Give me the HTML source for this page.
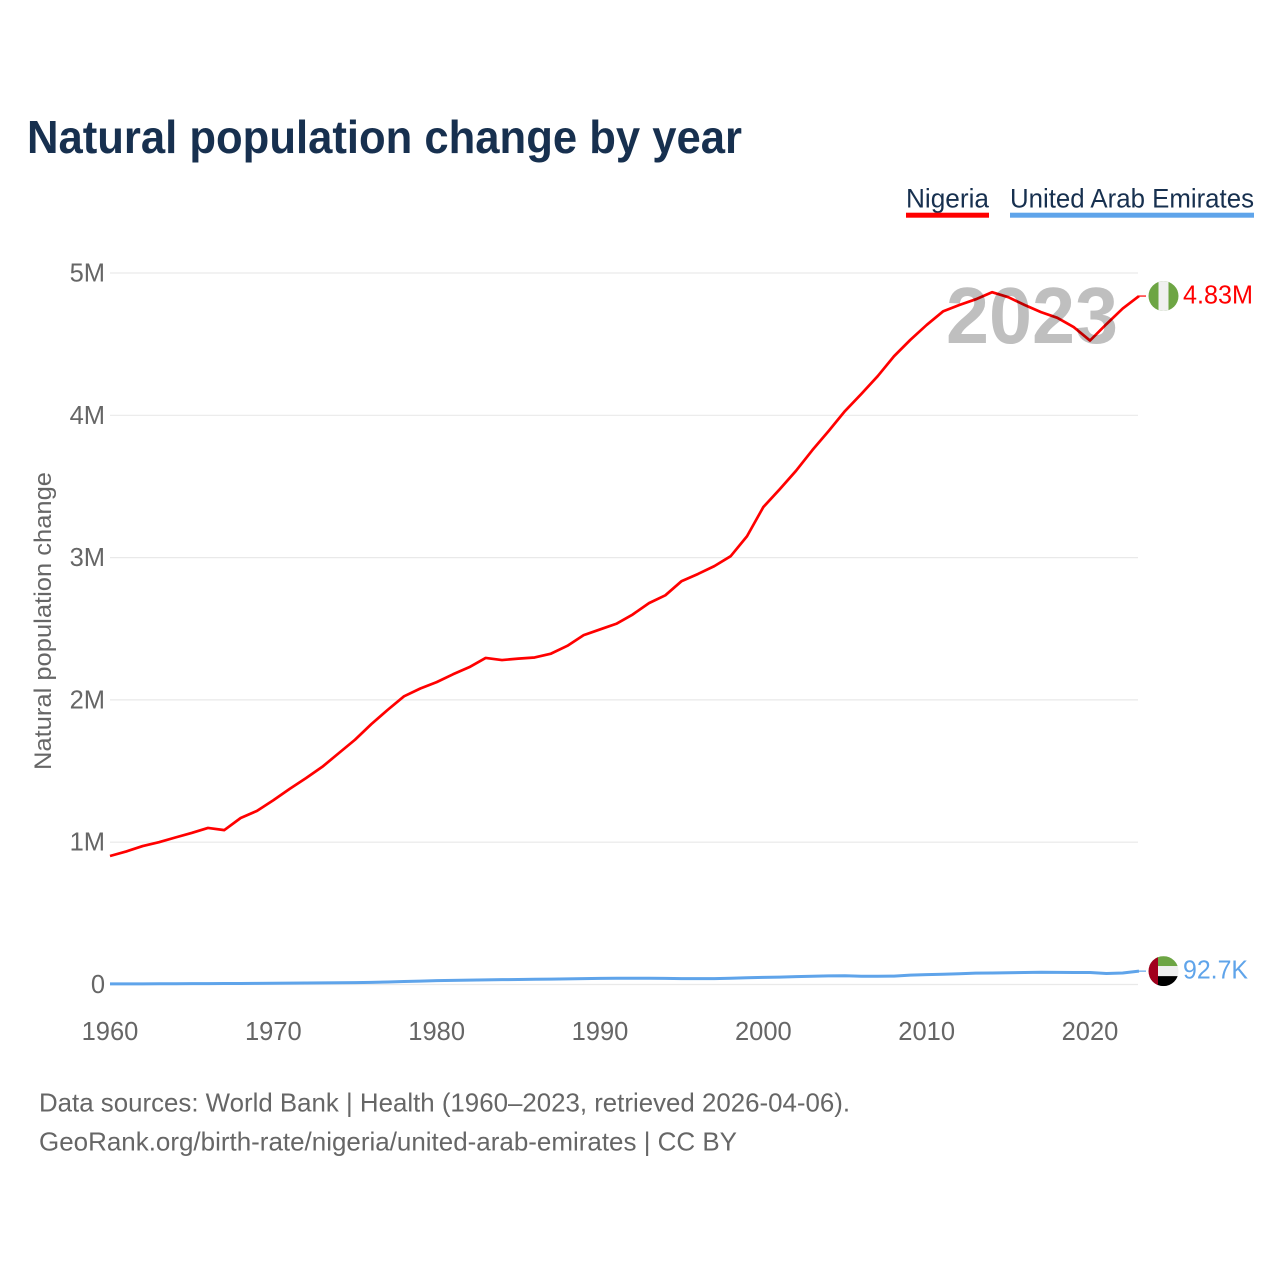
<!DOCTYPE html>
<html lang="en">
<head>
<meta charset="utf-8">
<title>Natural population change by year</title>
<style>
  html, body { margin: 0; padding: 0; background: #ffffff; }
  svg { display: block; font-family: "Liberation Sans", "DejaVu Sans", sans-serif; }
</style>
</head>
<body>
<svg id="chart" xmlns="http://www.w3.org/2000/svg" width="1280" height="1280" viewBox="0 0 1280 1280">
  <rect x="0" y="0" width="1280" height="1280" fill="#ffffff"/>
  <text x="27" y="153" font-size="46" font-weight="700" fill="#17304f" textLength="715" lengthAdjust="spacingAndGlyphs">Natural population change by year</text>

  <g>
    <text x="906" y="207.5" font-size="27" fill="#17304f" textLength="83" lengthAdjust="spacingAndGlyphs">Nigeria</text>
    <rect x="906" y="212.7" width="83" height="5" fill="#ff0000"/>
  </g>
  <g>
    <text x="1010" y="207.5" font-size="27" fill="#17304f" textLength="244" lengthAdjust="spacingAndGlyphs">United Arab Emirates</text>
    <rect x="1010" y="212.7" width="244" height="5" fill="#5fa4ea"/>
  </g>

  <g id="grid"></g>
  <g id="y-axis"></g>
  <g id="x-axis"></g>
  <text transform="translate(51 621) rotate(-90)" text-anchor="middle" font-size="24" fill="#666666" textLength="298" lengthAdjust="spacingAndGlyphs">Natural population change</text>

  <g id="series"></g>
  <text id="year-label" x="946" y="343" font-size="80" font-weight="700" fill="#bfbfbf" textLength="172" lengthAdjust="spacingAndGlyphs" style="mix-blend-mode:multiply">2023</text>

  <defs>
    <clipPath id="flag-clip-ng"><circle cx="0" cy="0" r="15"/></clipPath>
    <clipPath id="flag-clip-ae"><circle cx="0" cy="0" r="15"/></clipPath>
  </defs>
  <g id="flag-ng">
    <g clip-path="url(#flag-clip-ng)">
      <rect x="-15" y="-15" width="30" height="30" fill="#6da544"/>
      <rect x="-5" y="-15" width="10" height="30" fill="#f0f0f0"/>
    </g>
  </g>
  <g id="flag-ae">
    <g clip-path="url(#flag-clip-ae)">
      <rect x="-15" y="-15" width="30" height="10" fill="#6da544"/>
      <rect x="-15" y="-5" width="30" height="10" fill="#f0f0f0"/>
      <rect x="-15" y="5" width="30" height="10" fill="#000000"/>
      <rect x="-15" y="-15" width="9.5" height="30" fill="#a2001d"/>
    </g>
  </g>
  <text id="end-label-ng" x="1183" font-size="25.5" fill="#ff0000" textLength="70" lengthAdjust="spacingAndGlyphs"></text>
  <text id="end-label-ae" x="1183" font-size="25.5" fill="#5fa4ea" textLength="65" lengthAdjust="spacingAndGlyphs"></text>

  <text x="39" y="1111.5" font-size="26" fill="#666666" textLength="811" lengthAdjust="spacingAndGlyphs">Data sources: World Bank | Health (1960–2023, retrieved 2026-04-06).</text>
  <text x="39" y="1150.5" font-size="26" fill="#666666" textLength="698" lengthAdjust="spacingAndGlyphs">GeoRank.org/birth-rate/nigeria/united-arab-emirates | CC BY</text>
</svg>
<script>
var years = [1960,1961,1962,1963,1964,1965,1966,1967,1968,1969,1970,1971,1972,1973,1974,1975,1976,1977,1978,1979,1980,1981,1982,1983,1984,1985,1986,1987,1988,1989,1990,1991,1992,1993,1994,1995,1996,1997,1998,1999,2000,2001,2002,2003,2004,2005,2006,2007,2008,2009,2010,2011,2012,2013,2014,2015,2016,2017,2018,2019,2020,2021,2022,2023];
var nigeriaValues = [903000,935000,973000,1000000,1033000,1065000,1100000,1085000,1170000,1220000,1295000,1375000,1450000,1530000,1625000,1720000,1830000,1930000,2025000,2080000,2125000,2180000,2230000,2295000,2280000,2290000,2298000,2325000,2380000,2455000,2495000,2535000,2600000,2680000,2735000,2835000,2885000,2940000,3010000,3150000,3355000,3480000,3610000,3755000,3890000,4030000,4150000,4275000,4415000,4530000,4635000,4730000,4775000,4815000,4865000,4830000,4775000,4725000,4685000,4620000,4525000,4640000,4750000,4838000];
var uaeValues = [4000,4300,4600,5000,5500,6000,6300,6600,7000,7800,8500,9500,10500,11500,12500,13500,15000,18000,21000,24000,27000,29000,31000,32500,34000,35500,37000,38000,39500,41000,43000,43500,43500,43500,43000,41000,41000,41500,44000,47000,50000,52000,55000,58000,61000,61500,58000,58000,59000,66000,69000,72000,76000,80000,81000,82500,84000,86000,85000,84500,84500,77000,81000,94000];
var yTickValues = [0,1000000,2000000,3000000,4000000,5000000];
var yTickLabels = ["0","1M","2M","3M","4M","5M"];
var xTickValues = [1960,1970,1980,1990,2000,2010,2020];
var xTickLabels = ["1960","1970","1980","1990","2000","2010","2020"];
var endLabels = ["4.83M","92.7K"];

var NS = "http://www.w3.org/2000/svg";
var plotLeft = 110, plotRight = 1139, plotBottom = 984.5, plotTop = 273;

function xScale(year) {
  return plotLeft + (year - 1960) / (2023 - 1960) * (plotRight - plotLeft);
}
function yScale(value) {
  return plotBottom - value / 5000000 * (plotBottom - plotTop);
}
function pathFor(values) {
  return values.map(function (v, i) {
    return (i ? "L" : "M") + xScale(years[i]).toFixed(2) + " " + yScale(v).toFixed(2);
  }).join("");
}

var grid = document.getElementById("grid");
var yAxis = document.getElementById("y-axis");
var xAxis = document.getElementById("x-axis");
var series = document.getElementById("series");

yTickValues.forEach(function (v, i) {
  var line = document.createElementNS(NS, "line");
  
  
  line.setAttribute("x1", plotLeft);
  line.setAttribute("x2", 1138);
  line.setAttribute("y1", yScale(v));
  line.setAttribute("y2", yScale(v));
  line.setAttribute("stroke", "#e9e9e9");
  line.setAttribute("stroke-width", "1.2");
  grid.appendChild(line);

  var label = document.createElementNS(NS, "text");
  
  
  label.setAttribute("x", 105);
  label.setAttribute("y", yScale(v) + 8.5);
  label.setAttribute("text-anchor", "end");
  label.setAttribute("font-size", "25.5");
  label.setAttribute("fill", "#666666");
  label.textContent = yTickLabels[i];
  yAxis.appendChild(label);
});

xTickValues.forEach(function (year, i) {
  var label = document.createElementNS(NS, "text");
  
  
  label.setAttribute("x", xScale(year));
  label.setAttribute("y", 1040);
  label.setAttribute("text-anchor", "middle");
  label.setAttribute("font-size", "25.5");
  label.setAttribute("fill", "#666666");
  label.textContent = xTickLabels[i];
  xAxis.appendChild(label);
});

var uaeLine = document.createElementNS(NS, "path");


uaeLine.setAttribute("d", pathFor(uaeValues));
uaeLine.setAttribute("fill", "none");
uaeLine.setAttribute("stroke", "#5fa4ea");
uaeLine.setAttribute("stroke-width", "3");
uaeLine.setAttribute("stroke-linejoin", "round");
series.appendChild(uaeLine);

var nigeriaLine = document.createElementNS(NS, "path");


nigeriaLine.setAttribute("d", pathFor(nigeriaValues));
nigeriaLine.setAttribute("fill", "none");
nigeriaLine.setAttribute("stroke", "#ff0000");
nigeriaLine.setAttribute("stroke-width", "2.7");
nigeriaLine.setAttribute("stroke-linejoin", "round");
series.appendChild(nigeriaLine);

var ngEndY = yScale(nigeriaValues[nigeriaValues.length - 1]);
var aeEndY = yScale(uaeValues[uaeValues.length - 1]);

var ngConnector = document.createElementNS(NS, "line");


ngConnector.setAttribute("x1", plotRight);
ngConnector.setAttribute("x2", 1146);
ngConnector.setAttribute("y1", ngEndY);
ngConnector.setAttribute("y2", ngEndY);
ngConnector.setAttribute("stroke", "#ff0000");
ngConnector.setAttribute("stroke-width", "1.2");
series.appendChild(ngConnector);

var aeConnector = document.createElementNS(NS, "line");


aeConnector.setAttribute("x1", plotRight);
aeConnector.setAttribute("x2", 1146);
aeConnector.setAttribute("y1", aeEndY);
aeConnector.setAttribute("y2", aeEndY);
aeConnector.setAttribute("stroke", "#5fa4ea");
aeConnector.setAttribute("stroke-width", "1.2");
series.appendChild(aeConnector);

document.getElementById("flag-ng").setAttribute("transform", "translate(1163.5 " + ngEndY + ")");
document.getElementById("flag-ae").setAttribute("transform", "translate(1163.5 " + aeEndY + ")");

var ngLabel = document.getElementById("end-label-ng");
ngLabel.setAttribute("y", ngEndY + 7.5);
ngLabel.textContent = endLabels[0];
var aeLabel = document.getElementById("end-label-ae");
aeLabel.setAttribute("y", aeEndY + 7.5);
aeLabel.textContent = endLabels[1];
</script>
</body>
</html>
